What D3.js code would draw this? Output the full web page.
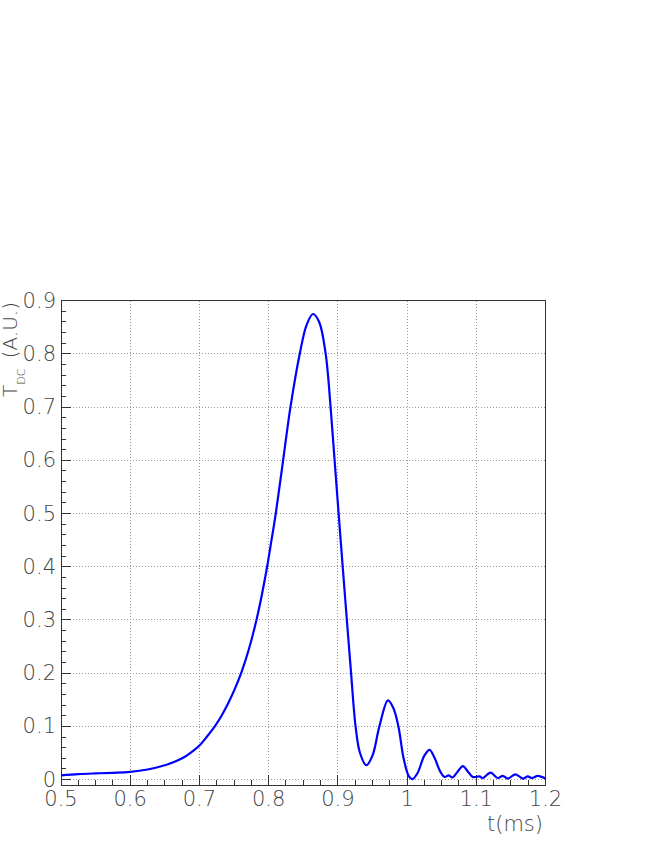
<!DOCTYPE html>
<html>
<head>
<meta charset="utf-8">
<script src="https://cdn.jsdelivr.net/npm/d3@7"></script>
<style>
  html, body { margin: 0; padding: 0; background: #fff; }
  svg { display: block; }
  .lbl { font-family: "DejaVu Sans", sans-serif; font-weight: 300; fill: #444; }
</style>
</head>
<body>
<script>
// ---- data ----
const tValues = [0.5, 0.525, 0.55, 0.575, 0.6, 0.625, 0.65, 0.665, 0.679, 0.69, 0.7, 0.711, 0.7222, 0.7315, 0.741, 0.751, 0.7608, 0.771, 0.7824, 0.79, 0.7978, 0.804, 0.8103, 0.8209, 0.8315, 0.8449, 0.855, 0.8641, 0.873, 0.8824, 0.8895, 0.8953, 0.9011, 0.907, 0.913, 0.9191, 0.9256, 0.932, 0.9412, 0.95, 0.96, 0.9724, 0.98, 0.9875, 0.995, 1.0027, 1.0076, 1.015, 1.025, 1.0325, 1.04, 1.048, 1.0542, 1.0604, 1.0653, 1.073, 1.0806, 1.088, 1.095, 1.1047, 1.1095, 1.1206, 1.131, 1.1383, 1.1455, 1.1567, 1.1672, 1.1744, 1.1806, 1.1889, 1.2];
const tdcValues = [0.008, 0.0103, 0.0117, 0.0128, 0.0145, 0.019, 0.027, 0.034, 0.043, 0.053, 0.064, 0.081, 0.1, 0.119, 0.142, 0.17, 0.202, 0.243, 0.3, 0.346, 0.4, 0.449, 0.5, 0.6, 0.7, 0.8, 0.855, 0.875, 0.86, 0.8, 0.7, 0.6, 0.5, 0.4, 0.3, 0.2, 0.1, 0.05, 0.027, 0.045, 0.1, 0.149, 0.135, 0.1, 0.04, 0.006, 0.001, 0.012, 0.045, 0.056, 0.04, 0.015, 0.005, 0.008, 0.004, 0.015, 0.0255, 0.015, 0.005, 0.006, 0.003, 0.013, 0.003, 0.007, 0.002, 0.010, 0.002, 0.006, 0.003, 0.007, 0.002];
const xTicks = [0.5, 0.6, 0.7, 0.8, 0.9, 1.0, 1.1, 1.2];
const xTickLabels = ["0.5", "0.6", "0.7", "0.8", "0.9", "1", "1.1", "1.2"];
const yTicks = [0, 0.1, 0.2, 0.3, 0.4, 0.5, 0.6, 0.7, 0.8, 0.9];
const yTickLabels = ["0", "0.1", "0.2", "0.3", "0.4", "0.5", "0.6", "0.7", "0.8", "0.9"];
const xTitle = "t(ms)";

// ---- layout ----
const W = 654, H = 846;
const pL = 61, pR = 545.5, pT = 300.7, pB = 785;

const svg = d3.select("body").append("svg").attr("width", W).attr("height", H);

const x = d3.scaleLinear().domain([0.5, 1.2]).range([pL, pR]);
const y = d3.scaleLinear().domain([-0.0101, 0.9]).range([pB, pT]);

// grid
const grid = svg.append("g").attr("stroke", "#9a9a9a").attr("stroke-width", 1)
  .attr("stroke-dasharray", "1,2").attr("shape-rendering", "crispEdges");
xTicks.slice(1, -1).forEach(t => {
  grid.append("line").attr("x1", x(t)).attr("x2", x(t)).attr("y1", pT).attr("y2", pB);
});
yTicks.forEach(v => {
  grid.append("line").attr("x1", pL).attr("x2", pR).attr("y1", y(v)).attr("y2", y(v));
});

// minor / major ticks (inward)
const xMinor = d3.range(0, 29).map(i => 0.5 + i * 0.025);
const yMinor = d3.range(0, 46).map(i => i * 0.02);
const tickG = svg.append("g").attr("stroke", "#333").attr("stroke-width", 1).attr("shape-rendering", "crispEdges");
xMinor.forEach(t => {
  const major = xTicks.some(m => Math.abs(m - t) < 1e-6);
  tickG.append("line").attr("x1", x(t)).attr("x2", x(t)).attr("y1", pB).attr("y2", pB - (major ? 10 : 5));
});
yMinor.filter(v => v <= 0.9001).forEach(v => {
  const major = yTicks.some(m => Math.abs(m - v) < 1e-6);
  tickG.append("line").attr("x1", pL).attr("x2", pL + (major ? 10 : 5)).attr("y1", y(v)).attr("y2", y(v));
});

// frame
svg.append("rect").attr("x", pL).attr("y", pT).attr("width", pR - pL).attr("height", pB - pT)
  .attr("fill", "none").attr("stroke", "#333").attr("stroke-width", 1).attr("shape-rendering", "crispEdges");

// tick labels
svg.append("g").selectAll("text").data(xTicks).join("text")
  .attr("class", "lbl").attr("x", d => x(d)).attr("y", 806)
  .attr("text-anchor", "middle").attr("font-size", 21)
  .text((d, i) => xTickLabels[i]);
svg.append("g").selectAll("text").data(yTicks).join("text")
  .attr("class", "lbl").attr("x", 56).attr("y", d => y(d) + 7)
  .attr("text-anchor", "end").attr("font-size", 21)
  .text((d, i) => yTickLabels[i]);

// axis titles
svg.append("text").attr("class", "lbl").attr("x", 543).attr("y", 831)
  .attr("text-anchor", "end").attr("font-size", 21).text(xTitle);

const yt = svg.append("text").attr("class", "lbl")
  .attr("transform", "translate(17,302) rotate(-90)")
  .attr("text-anchor", "end").attr("font-size", 20);
yt.append("tspan").text("T");
yt.append("tspan").attr("font-size", 11).attr("dy", 8).text("DC");
yt.append("tspan").attr("dy", -8).attr("dx", 4).text(" (A.U.)");

// curve
const data = tValues.map((t, i) => [t, tdcValues[i]]);
svg.append("path").datum(data)
  .attr("fill", "none").attr("stroke", "#0000ff").attr("stroke-width", 2.2)
  .attr("stroke-linejoin", "round")
  .attr("d", d3.line().x(d => x(d[0])).y(d => y(d[1])).curve(d3.curveCatmullRom.alpha(0.5)));
</script>
</body>
</html>
